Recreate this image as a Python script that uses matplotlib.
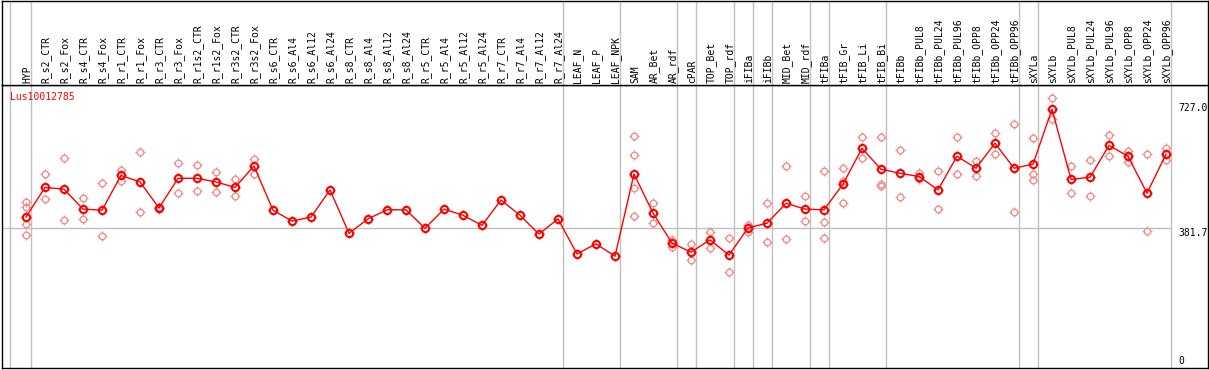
"""Expression profile of Lus10012785 across tissues/treatments (line + replicates)."""

import matplotlib

matplotlib.use("Agg")
import matplotlib.pyplot as plt
import numpy as np
from matplotlib.path import Path

categories = [
    "HYP", "R_s2_CTR", "R_s2_Fox", "R_s4_CTR", "R_s4_Fox", "R_r1_CTR", "R_r1_Fox",
    "R_r3_CTR", "R_r3_Fox", "R_r1s2_CTR", "R_r1s2_Fox", "R_r3s2_CTR", "R_r3s2_Fox",
    "R_s6_CTR", "R_s6_Al4", "R_s6_Al12", "R_s6_Al24", "R_s8_CTR", "R_s8_Al4",
    "R_s8_Al12", "R_s8_Al24", "R_r5_CTR", "R_r5_Al4", "R_r5_Al12", "R_r5_Al24",
    "R_r7_CTR", "R_r7_Al4", "R_r7_Al12", "R_r7_Al24", "LEAF_N", "LEAF_P", "LEAF_NPK",
    "SAM", "AR_Bet", "AR_rdf", "cPAR", "TOP_Bet", "TOP_rdf", "iFIBa", "iFIBb",
    "MID_Bet", "MID_rdf", "tFIBa", "tFIB_Gr", "tFIB_Li", "tFIB_Bi", "tFIBb",
    "tFIBb_PUL8", "tFIBb_PUL24", "tFIBb_PUL96", "tFIBb_OPP8", "tFIBb_OPP24",
    "tFIBb_OPP96", "sXYLa", "sXYLb", "sXYLb_PUL8", "sXYLb_PUL24", "sXYLb_PUL96",
    "sXYLb_OPP8", "sXYLb_OPP24", "sXYLb_OPP96",
]

mean_values = [
    412, 494, 489, 434, 431, 527, 509, 437, 519, 519, 509, 494, 553,
    431, 401, 412, 487, 367, 407, 432, 432, 381, 434, 417, 389,
    459, 417, 365, 407, 310, 338, 304,
    531, 423, 340, 315, 349, 307, 382, 395,
    450, 434, 432, 503, 602, 544, 533,
    524, 487, 580, 547, 616, 547,
    558, 710, 516, 522, 610, 580, 478, 586,
]

replicate_values = [
    [454, 441, 392, 362], [531, 461], [574, 404], [465, 407], [505, 360],
    [542, 512], [591, 426], [440, 434], [561, 478], [556, 484], [537, 480],
    [517, 471], [572, 532],
    [], [], [], [], [], [], [], [], [], [], [], [], [], [], [], [],
    [], [], [],
    [636, 583, 491, 415], [450, 395], [349, 330], [338, 293], [371, 326],
    [353, 260], [390, 372], [450, 342],
    [552, 351], [469, 401], [539, 398, 354], [547, 450, 512], [633, 574],
    [633, 503, 497], [597, 467],
    [533, 517], [538, 433], [632, 530], [567, 526], [643, 586], [668, 425],
    [630, 530, 514], [740, 683], [552, 478], [569, 471], [638, 580],
    [595, 565], [586, 374], [603, 570],
]

# groups end after these category indices
group_ends = [0, 28, 31, 34, 35, 37, 38, 39, 41, 42, 45, 52, 53, 60]
gene_name = "Lus10012785"
axis_marks = [727.0, 381.7]

W, H = 1209, 370
X0, DX = 26.0, 19.0        # pixel x of first category, spacing
Y0, KY = 366.2, 0.362      # pixel y of value 0, pixels per unit
TOP_Y = 85.0               # boundary between label strip and plot
GRAY = "#c0c0c0"
TICK = 1.4                 # tick length relative to circle radius


def tick_marks():
    # four short ticks sticking out of the circle (the bitmap look)
    verts = [[0, 1], [0, TICK], [0, -1], [0, -TICK],
             [1, 0], [TICK, 0], [-1, 0], [-TICK, 0]]
    codes = [Path.MOVETO, Path.LINETO] * 4
    return Path(verts, codes)


def px_to_x(px):
    return (px - X0) / DX


def ring(ax, xs, ys, size, color, width, z):
    ax.plot(xs, ys, ls="none", marker="o", ms=size, mfc="none", mec=color,
            mew=width, zorder=z)
    ax.plot(xs, ys, ls="none", marker=tick_marks(), ms=size * TICK, mfc="none",
            mec=color, mew=1.0, zorder=z)


def main():
    plt.rcParams["font.family"] = "DejaVu Sans Mono"
    fig = plt.figure(figsize=(W / 100, H / 100), dpi=100)

    xlim = (px_to_x(2), px_to_x(1208))
    ax = fig.add_axes([2 / W, 2 / H, 1206 / W, (368 - TOP_Y) / H])
    ax.set_xlim(*xlim)
    ax.set_ylim((Y0 - 368) / KY, (Y0 - TOP_Y) / KY)
    lab = fig.add_axes([2 / W, (H - TOP_Y) / H, 1206 / W, (TOP_Y - 0.5) / H])
    lab.set_xlim(*xlim)
    lab.set_ylim(TOP_Y, 0.5)

    for a in (ax, lab):
        a.set_xticks([])
        a.set_yticks([])
        for s in a.spines.values():
            s.set_color("black")
            s.set_linewidth(1.0)

    x = np.arange(len(categories))
    seps = [px_to_x(10)] + [g + 0.25 for g in group_ends]
    for s in seps:
        ax.axvline(s, color=GRAY, lw=1, zorder=1)
        lab.axvline(s, color=GRAY, lw=1, zorder=1)
    ax.hlines(axis_marks[1], xlim[0], group_ends[-1] + 0.25, color=GRAY, lw=1, zorder=1)

    rx = [i for i, reps in enumerate(replicate_values) for _ in reps]
    ry = [v for reps in replicate_values for v in reps]
    ring(ax, rx, ry, 4.7, "#f09090", 1.0, 2)
    ax.plot(x, mean_values, color="red", lw=1.0, zorder=3)
    ring(ax, x, mean_values, 5.2, "red", 1.5, 4)

    for i, name in enumerate(categories):
        lab.text(i + 0.05, 83, name, rotation=90, ha="center", va="bottom",
                 fontsize=7.0, color="black")

    fig.text(10 / W, 1 - 97 / H, gene_name, color="red", fontsize=7.0,
             ha="left", va="center")
    tx = px_to_x(1178)
    for v in axis_marks:
        ax.text(tx, v, f"{v:.1f}", ha="left", va="top", fontsize=7.0)
    ax.text(tx, 0, "0", ha="left", va="bottom", fontsize=7.0)

    fig.savefig("out.png", dpi=100)
    plt.close(fig)


if __name__ == "__main__":
    main()
